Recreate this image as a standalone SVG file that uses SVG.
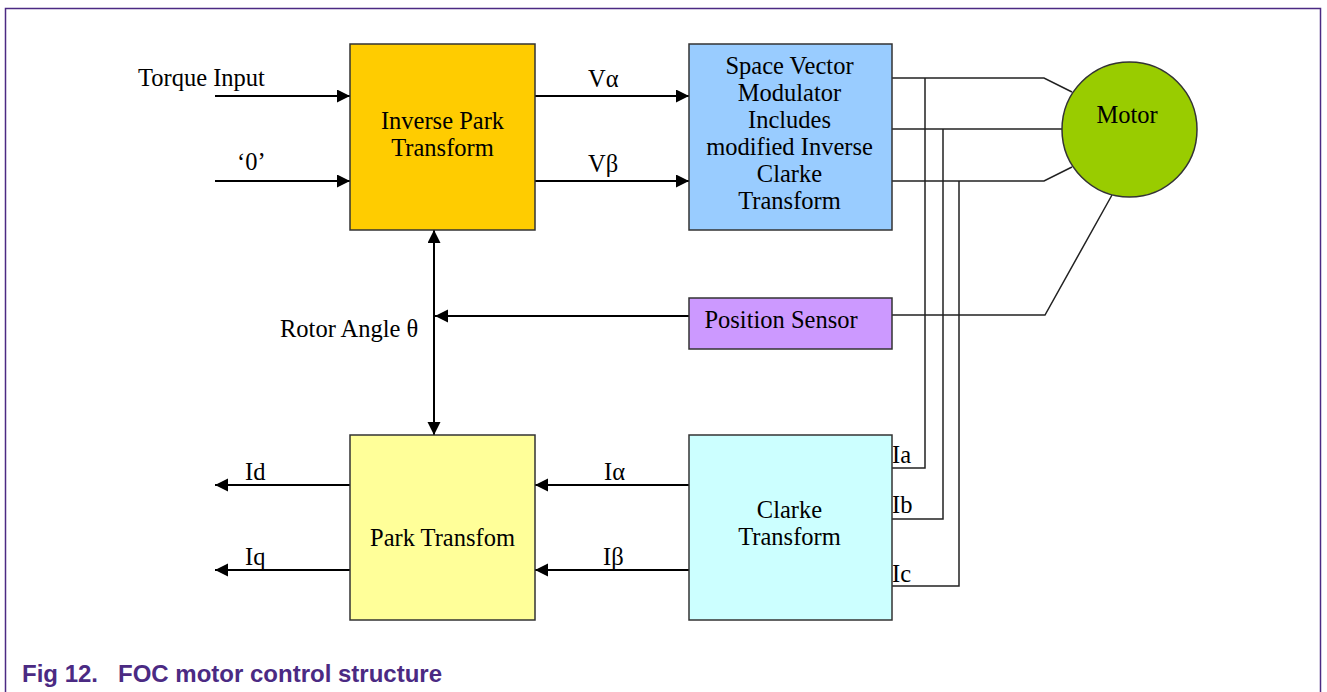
<svg xmlns="http://www.w3.org/2000/svg" width="1327" height="692" viewBox="0 0 1327 692">
  <style>
    .lbl { font-family: "Liberation Serif", "Times New Roman", serif; font-size: 24.5px; fill: #000; }
    .box { stroke: #333; stroke-width: 1.5; }
    .arr { stroke: #000; stroke-width: 2; fill: none; }
    .wire { stroke: #222; stroke-width: 1.5; fill: none; }
    .cap { font-family: "Liberation Sans", Arial, sans-serif; font-size: 24px; font-weight: bold; fill: #4B2A83; }
  </style>
  <defs>
    <marker id="head" markerUnits="userSpaceOnUse" markerWidth="14" markerHeight="14" refX="13" refY="6.5" orient="auto-start-reverse">
      <path d="M0,0 L13,6.5 L0,13 z" fill="#000"/>
    </marker>
  </defs>

  <rect width="1327" height="692" fill="#fff"/>
  <!-- figure frame -->
  <rect x="5.5" y="8.5" width="1315" height="700" fill="none" stroke="#4B2A83" stroke-width="1.5"/>

  <g id="connectors">
    <!-- inputs -->
    <line class="arr" x1="215" y1="96" x2="350" y2="96" marker-end="url(#head)"/>
    <line class="arr" x1="215" y1="181" x2="350" y2="181" marker-end="url(#head)"/>
    <!-- V alpha / V beta -->
    <line class="arr" x1="535" y1="96" x2="689" y2="96" marker-end="url(#head)"/>
    <line class="arr" x1="535" y1="181" x2="689" y2="181" marker-end="url(#head)"/>
    <!-- rotor angle shared -->
    <line class="arr" x1="434" y1="230" x2="434" y2="435" marker-start="url(#head)" marker-end="url(#head)"/>
    <line class="arr" x1="689" y1="316" x2="435" y2="316" marker-end="url(#head)"/>
    <!-- outputs of Park -->
    <line class="arr" x1="350" y1="485" x2="215" y2="485" marker-end="url(#head)"/>
    <line class="arr" x1="350" y1="570" x2="215" y2="570" marker-end="url(#head)"/>
    <!-- I alpha / I beta -->
    <line class="arr" x1="689" y1="485" x2="535" y2="485" marker-end="url(#head)"/>
    <line class="arr" x1="689" y1="570" x2="535" y2="570" marker-end="url(#head)"/>

    <!-- phase wires to motor -->
    <polyline class="wire" points="892,78 1044,78 1072,92"/>
    <line class="wire" x1="892" y1="129" x2="1062" y2="129"/>
    <polyline class="wire" points="892,181 1044,181 1072,167"/>
    <!-- sensor wire -->
    <polyline class="wire" points="892,315 1045,315 1112,195"/>
    <!-- current feedback taps -->
    <polyline class="wire" points="925,78 925,468 892,468"/>
    <polyline class="wire" points="943,129 943,519 892,519"/>
    <polyline class="wire" points="959,181 959,586 892,586"/>

    <text class="lbl" x="138" y="86">Torque Input</text>
    <text class="lbl" x="237" y="170">‘0’</text>
    <text class="lbl" x="588" y="87">Vα</text>
    <text class="lbl" x="588" y="172">Vβ</text>
    <text class="lbl" x="280" y="337">Rotor Angle θ</text>
    <text class="lbl" x="245" y="480">Id</text>
    <text class="lbl" x="245" y="565">Iq</text>
    <text class="lbl" x="604" y="480">Iα</text>
    <text class="lbl" x="603" y="565">Iβ</text>
    <text class="lbl" x="892" y="463">Ia</text>
    <text class="lbl" x="892" y="513">Ib</text>
    <text class="lbl" x="892" y="582">Ic</text>
  </g>

  <g id="inverse-park">
    <rect class="box" x="350" y="44" width="185" height="186" fill="#FFCC00"/>
    <text class="lbl" x="442.5" y="129" text-anchor="middle">Inverse Park</text>
    <text class="lbl" x="442.5" y="156" text-anchor="middle">Transform</text>
  </g>

  <g id="svm">
    <rect class="box" x="689" y="44" width="203" height="186" fill="#99CCFF"/>
    <text class="lbl" x="789.5" y="74" text-anchor="middle">Space Vector</text>
    <text class="lbl" x="789.5" y="101" text-anchor="middle">Modulator</text>
    <text class="lbl" x="789.5" y="128" text-anchor="middle">Includes</text>
    <text class="lbl" x="789.5" y="155" text-anchor="middle">modified Inverse</text>
    <text class="lbl" x="789.5" y="182" text-anchor="middle">Clarke</text>
    <text class="lbl" x="789.5" y="209" text-anchor="middle">Transform</text>
  </g>

  <g id="motor">
    <circle class="box" cx="1129.5" cy="129.5" r="67.5" fill="#99CC00"/>
    <text class="lbl" x="1127" y="123" text-anchor="middle">Motor</text>
  </g>

  <g id="position-sensor">
    <rect class="box" x="689" y="298" width="203" height="51" fill="#CC99FF"/>
    <text class="lbl" x="781" y="328" text-anchor="middle">Position Sensor</text>
  </g>

  <g id="park">
    <rect class="box" x="350" y="435" width="185" height="185" fill="#FFFF99"/>
    <text class="lbl" x="442.5" y="546" text-anchor="middle">Park Transfom</text>
  </g>

  <g id="clarke">
    <rect class="box" x="689" y="435" width="203" height="185" fill="#CCFFFF"/>
    <text class="lbl" x="789.5" y="518" text-anchor="middle">Clarke</text>
    <text class="lbl" x="789.5" y="545" text-anchor="middle">Transform</text>
  </g>

  <g id="caption">
    <text class="cap" x="22" y="682">Fig 12.</text>
    <text class="cap" x="118" y="682">FOC motor control structure</text>
  </g>
</svg>
